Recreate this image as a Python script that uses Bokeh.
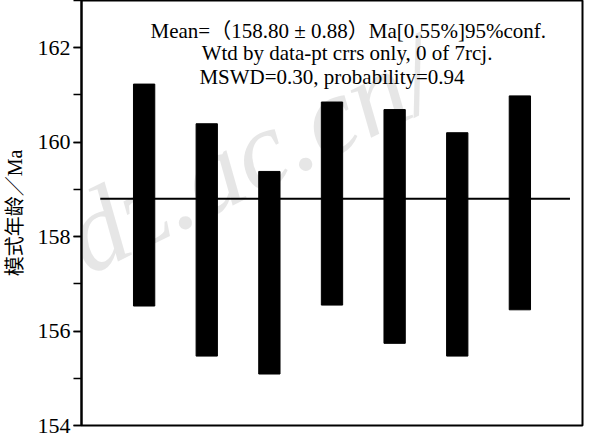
from bokeh.plotting import figure
from bokeh.models import Label, SingleIntervalTicker
from bokeh.embed import file_html
from bokeh.resources import INLINE

# Data
analysis = [1, 2, 3, 4, 5, 6, 7]
age_high = [161.23, 160.39, 159.38, 160.85, 160.69, 160.20, 160.98]
age_low = [156.53, 155.47, 155.09, 156.55, 155.74, 155.47, 156.45]
mean_age = 158.80
mean_line_x = [0.3, 7.8]

stat_lines = [
    "Mean=（158.80 ± 0.88）Ma[0.55%]95%conf.",
    "Wtd by data-pt crrs only, 0 of 7rcj.",
    "MSWD=0.30, probability=0.94",
]
stat_x = [4.26, 4.24, 4.0]
stat_y = [162.36, 161.88, 161.37]

SERIF = "Liberation Serif"
MIXED = "'Liberation Serif', 'Noto Sans CJK SC'"

p = figure(width=590, height=437, x_range=(0, 8), y_range=(154, 163),
           output_backend="svg", toolbar_location=None,
           min_border_left=80, min_border_right=8, min_border_top=0,
           min_border_bottom=12)

p.background_fill_color = "white"
p.border_fill_color = "white"
p.outline_line_color = "black"
p.outline_line_width = 2
p.xgrid.visible = False
p.ygrid.visible = False
p.xaxis.visible = False

ya = p.yaxis[0]
ya.ticker = SingleIntervalTicker(interval=2, num_minor_ticks=2)
ya.axis_line_width = 2
ya.major_tick_in = 0
ya.major_tick_out = 8
ya.minor_tick_in = 0
ya.minor_tick_out = 8
ya.major_tick_line_width = 1.5
ya.minor_tick_line_width = 1.5
ya.major_label_text_font = SERIF
ya.major_label_text_font_size = "22px"
ya.major_label_text_color = "black"
ya.major_label_standoff = 3
ya.axis_label = "模式年龄／Ma"
ya.axis_label_text_font = MIXED
ya.axis_label_text_font_style = "normal"
ya.axis_label_text_font_size = "20px"
ya.axis_label_text_color = "black"
ya.axis_label_standoff = 9

# faint site watermark, kept inside the plot frame
wm = Label(x=17, y=128, x_units="screen", y_units="screen",
           text="dz.ac.cn/", angle=26, angle_units="deg",
           text_font=SERIF, text_font_style="italic", text_font_size="112px",
           text_color="#9a9a9a", text_alpha=0.25, level="underlay")
p.add_layout(wm)

p.vbar(x=analysis, width=0.34, bottom=age_low, top=age_high,
       fill_color="black", line_color="black")
p.segment(x0=[mean_line_x[0]], y0=[mean_age], x1=[mean_line_x[1]], y1=[mean_age],
          line_color="black", line_width=2)

for t, x, y in zip(stat_lines, stat_x, stat_y):
    p.add_layout(Label(x=x, y=y, text=t, text_align="center",
                       text_baseline="alphabetic", text_font=MIXED,
                       text_font_size="21px", text_color="black"))

open("out.html", "w").write(file_html(p, INLINE))
